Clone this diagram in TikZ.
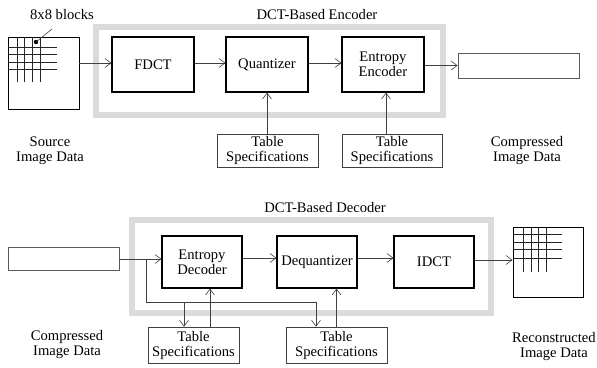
\documentclass[tikz,border=0pt]{standalone}
\usepackage{fontspec}
\setmainfont{Liberation Serif}
\usetikzlibrary{arrows.meta}
\begin{document}
\begin{tikzpicture}[x=1pt,y=-1pt,
  txt/.style={font=\fontsize{14.6}{15}\selectfont, align=center, inner sep=0pt},
  blk/.style={txt, draw=black, line width=1.1pt},
  tbl/.style={txt, draw=black!75, line width=0.6pt},
  outbox/.style={draw=black!65, line width=0.7pt, inner sep=0pt},
  frame/.style={draw=black!14, line width=6pt},
  conn/.style={draw=black!75, line width=0.6pt},
  arr/.style={conn, -{Straight Barb[length=6pt,width=9pt]}},
  grid/.style={draw=black!85, line width=0.9pt}]
\useasboundingbox (0,0) rectangle (597,367);

% ---------- Encoder ----------
\draw[frame] (96,27) rectangle (443,115);
\node[txt] (enclbl) at (317,15) {DCT-Based Encoder};

\node[draw=black, line width=0.9pt, minimum width=71pt, minimum height=72pt, inner sep=0pt] (src) at (43.5,73) {};
\foreach \x in {17,24,32,40} \draw[grid] (\x,37) -- (\x,82);
\foreach \y in {47,54,62,69} \draw[grid] (8,\y) -- (57,\y);
\fill (36,42) circle (2.2pt);
\node[txt] (blocks) at (62,15) {8x8 blocks};
\coordinate (bl) at (52,29);
\draw[conn] (36,42) -- (bl);

\node[blk, minimum width=82pt, minimum height=55pt] (fdct) at (153,64.5) {FDCT};
\node[blk, minimum width=82pt, minimum height=55pt] (quant) at (267,64.5) {Quantizer};
\node[blk, minimum width=82pt, minimum height=55pt] (entenc) at (383,64.5) {Entropy\\Encoder};
\node[outbox, minimum width=121pt, minimum height=25pt] (outa) at (518.5,65.5) {};

\node[tbl, minimum width=101pt, minimum height=33pt] (tab1) at (267.5,150.5) {Table\\Specifications};
\node[tbl, minimum width=100pt, minimum height=33pt] (tab2) at (392,150.5) {Table\\Specifications};

\draw[arr] (src.east |- 0,63) -- (fdct.west |- 0,63);
\draw[arr] (fdct.east |- 0,63) -- (quant.west |- 0,63);
\draw[arr] (quant.east |- 0,63) -- (entenc.west |- 0,63);
\draw[arr] (entenc.east |- outa.west) -- (outa.west);
\draw[arr] (tab1.north -| quant.south) -- (quant.south);
\draw[arr] ([xshift=3pt]tab2.north -| entenc.south) -- ([xshift=3pt]entenc.south);

\node[txt] (srclbl) at (50,150.5) {Source\\Image Data};
\node[txt] (cmplbl1) at (527,150.5) {Compressed\\Image Data};

% ---------- Decoder ----------
\draw[frame] (132,220) rectangle (491,313);
\node[txt] (declbl) at (325,208) {DCT-Based Decoder};

\node[outbox, minimum width=111pt, minimum height=23pt] (inb) at (63.5,258.5) {};
\node[blk, minimum width=80pt, minimum height=52pt] (entdec) at (202,262) {Entropy\\Decoder};
\node[blk, minimum width=80pt, minimum height=52pt] (deq) at (317,262) {Dequantizer};
\node[blk, minimum width=80pt, minimum height=52pt] (idct) at (434,262) {IDCT};

\node[draw=black, line width=0.9pt, minimum width=70pt, minimum height=70pt, inner sep=0pt] (rec) at (548,262) {};
\foreach \x in {523,531,538,546} \draw[grid] (\x,227) -- (\x,272);
\foreach \y in {234,242,249,258} \draw[grid] (513,\y) -- (562,\y);

\node[tbl, minimum width=91pt, minimum height=36pt] (tab3) at (193.5,345) {Table\\Specifications};
\node[tbl, minimum width=101pt, minimum height=36pt] (tab4) at (336.5,345) {Table\\Specifications};

\draw[arr] (inb.east |- 0,259) -- (entdec.west |- 0,259);
\draw[arr] (entdec.east |- 0,258) -- (deq.west |- 0,258);
\draw[arr] (deq.east |- 0,258) -- (idct.west |- 0,258);
\draw[arr] (idct.east |- 0,260) -- (rec.west |- 0,260);

\coordinate (j1) at (146,259);
\coordinate (j3) at (316,302);
\coordinate (j4) at (184,302);
\draw[arr] (j1) |- (j3) -- (j3 |- tab4.north);
\draw[arr] (j4) -- (j4 |- tab3.north);
\draw[arr] ([xshift=16.5pt]tab3.north) -- ([xshift=16.5pt]tab3.north |- entdec.south);
\draw[arr] (tab4.north) -- (tab4.north |- deq.south);

\node[txt] (cmplbl2) at (67,345) {Compressed\\Image Data};
\node[txt] (reclbl) at (554,347) {Reconstructed\\Image Data};
\end{tikzpicture}
\end{document}
